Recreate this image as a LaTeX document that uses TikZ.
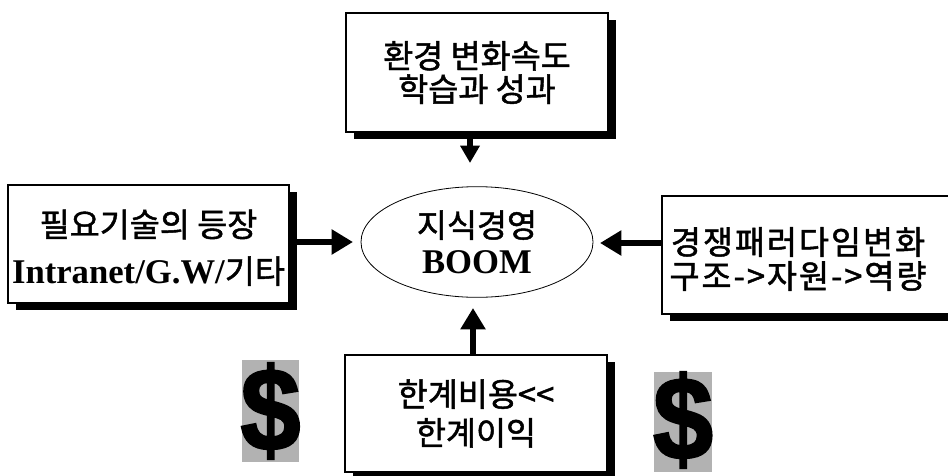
\documentclass[tikz,border=0pt]{standalone}
\usepackage{fontspec}
\setmainfont{Liberation Serif}
\newfontfamily\kr[FakeBold=1.4]{Noto Sans CJK KR}
\newfontfamily\krw[FakeBold=1.4,LetterSpace=6]{Noto Sans CJK KR}
\newfontfamily\dolfont[FakeBold=2]{Liberation Sans}
\usetikzlibrary{arrows.meta,shadows,shapes.geometric}
\newcommand{\Lat}[1]{{\rmfamily\bfseries\fontsize{26}{26}\selectfont #1}}
\begin{document}
\begin{tikzpicture}[x=0.75pt,y=-0.75pt,
  box/.style={draw=black, line width=0.8pt, fill=white, align=center, inner sep=0pt,
    drop shadow={shadow xshift=6pt,shadow yshift=-5.5pt,fill=black,opacity=1}},
  kt/.style={font=\kr\fontsize{24.5}{25}\selectfont},
  arr/.style={line width=5pt, -{Triangle[length=16pt,width=18pt]}},
  moneybg/.style={fill=black!30},
  money/.style={inner sep=0pt, font=\dolfont\bfseries\fontsize{88}{88}\selectfont}
]
\useasboundingbox (0,0) rectangle (948,475);
\clip (0,0) rectangle (948,475);
\fill[white] (0,0) rectangle (948,475);

% boxes
\node[box, kt, minimum width=196.5pt, minimum height=89.25pt] (top) at (477,72.5)
  {환경 변화속도\\학습과 성과};
\node[box, kt, minimum width=210.75pt, minimum height=88.5pt] (left) at (148.5,244)
  {\rule{0pt}{26pt}필요기술의 등장\\[10pt]\Lat{Intranet/G.W/}기타};
\node[box, minimum width=222pt, minimum height=88.5pt] (right) at (810,255) {};
\node[font=\krw\fontsize{24.5}{25.5}\selectfont, align=center, inner sep=0pt] (rtext) at (798,259)
  {경쟁패러다임변화\\구조->자원->역량};
\node[box, kt, minimum width=196.5pt, minimum height=87.75pt] (bottom) at (476,413.5)
  {한계비용<<\\[4pt]한계이익};

% centre ellipse
\node[draw, ellipse, line width=0.6pt, minimum width=174pt, minimum height=83pt,
  kt, align=center, inner sep=0pt] (ell) at (477,242)
  {지식경영\\[2pt]\Lat{BOOM}};

% arrows
\coordinate (tT) at (470,163);
\coordinate (tL) at (353,242);
\coordinate (tR) at (600,243);
\coordinate (tB) at (473,308);
\draw[line width=4.5pt, -{Triangle[length=13pt,width=14pt]}] (tT |- top.south) -- (tT);
\draw[arr] (left.east |- tL) -- (tL);
\draw[arr] (right.west |- tR) -- (tR);
\draw[arr] (tB |- bottom.north) -- (tB);

% dollar signs
\fill[moneybg] (242,360) rectangle (299,462);
\fill[moneybg] (654,372) rectangle (712,472);
\node[money] (d1) at (270.5,411) {\scalebox{0.92}[1]{\$}};
\node[money] (d2) at (683,420) {\scalebox{0.92}[1]{\$}};
\end{tikzpicture}
\end{document}
